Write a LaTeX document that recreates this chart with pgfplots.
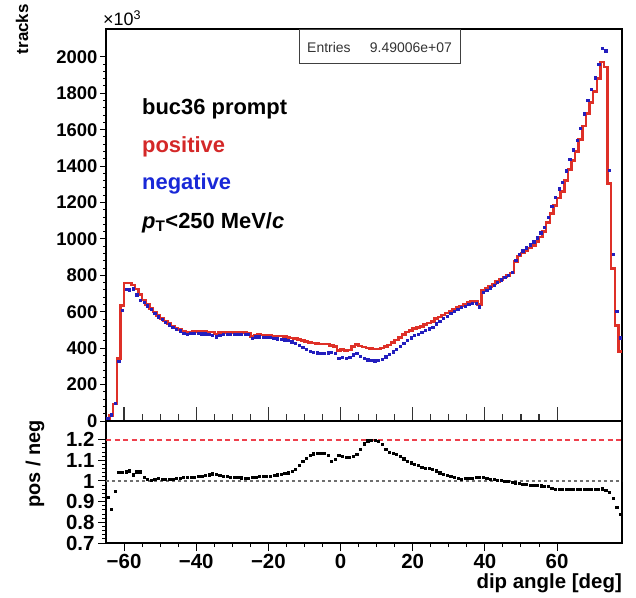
\documentclass[border=0pt]{standalone}
\usepackage{pgfplots}
\pgfplotsset{compat=1.18}
\usepackage{pgfplotstable}
\usepackage{fontspec}
\setmainfont{Liberation Sans}
\definecolor{rootred}{RGB}{222,48,40}
\definecolor{rootblue}{RGB}{35,30,190}
\definecolor{txtred}{RGB}{212,40,40}
\definecolor{txtblue}{RGB}{25,40,215}
\definecolor{dashred}{RGB}{235,30,45}
\definecolor{dashgray}{RGB}{110,110,110}

\pgfplotstableread{
x red blue ratio
-65 15 16.3 0.922
-64 30 34.8 0.862
-63 94 98.8 0.951
-62 342 328.5 1.041
-61 635 610 1.041
-60 757 724.4 1.045
-59 757 721 1.050
-58 748 726 1.030
-57 725 693.8 1.045
-56 695 665 1.045
-55 665 653 1.018
-54 640 633.7 1.010
-53 618 615 1.005
-52 598 592 1.010
-51 580 573 1.012
-50 563 557.4 1.010
-49 548 543.7 1.008
-48 535 529.7 1.010
-47 522 516.8 1.010
-46 512 505.9 1.012
-45 503 495.6 1.015
-44 492 483.3 1.018
-43 488 478.4 1.020
-42 490 480.4 1.020
-41 492 482.4 1.020
-40 492 481.4 1.022
-39 492 480 1.025
-38 492 479.1 1.027
-37 490 475.7 1.030
-36 488 471.5 1.035
-35 478 462.7 1.033
-34 486 473.2 1.027
-33 487 475.1 1.025
-32 487 476.5 1.022
-31 487 477.5 1.020
-30 486 476.5 1.020
-29 486 477.4 1.018
-28 486 478.3 1.016
-27 485 478.3 1.014
-26 483 476.8 1.013
-25 465 455.9 1.020
-24 472 462.7 1.020
-23 474 463.8 1.022
-22 472 461.8 1.022
-21 472 461.4 1.023
-20 470 458.5 1.025
-19 468 455.3 1.028
-18 466 452.4 1.030
-17 466 451.1 1.033
-16 463 446.9 1.036
-15 460 442.3 1.040
-14 456 435.1 1.048
-13 452 427.2 1.058
-12 448 416.7 1.075
-11 443 404.6 1.095
-10 438 394.6 1.110
-9 432 384 1.125
-8 428 378.1 1.132
-7 425 374.4 1.135
-6 424 373.6 1.135
-5 424 373.6 1.135
-4 422 375.1 1.125
-3 415 379 1.095
-2 410 371 1.105
-1 388 344.9 1.125
0 392 350 1.120
1 386 346.2 1.115
2 390 349.8 1.115
3 408 364.3 1.120
4 420 371.7 1.130
5 412 356.7 1.155
6 406 344.1 1.180
7 402 336.4 1.195
8 398 332.2 1.198
9 396 330.6 1.198
10 396 332.2 1.192
11 400 339.6 1.178
12 408 353.2 1.155
13 418 366.7 1.140
14 432 380.6 1.135
15 446 395.4 1.128
16 460 411.4 1.118
17 474 427.8 1.108
18 488 444.8 1.097
19 498 457.7 1.088
20 507 469.4 1.080
21 514 478.1 1.075
22 520 486.9 1.068
23 530 498.6 1.063
24 538 507.5 1.060
25 546 516.1 1.058
26 562 535.2 1.050
27 572 550 1.040
28 582 563.4 1.033
29 592 575.9 1.028
30 605 590.8 1.024
31 614 602 1.020
32 623 613.8 1.015
33 632 625.7 1.010
34 640 632.4 1.012
35 650 641.7 1.013
36 656 646.3 1.015
37 660 648.3 1.018
38 640 627.5 1.020
39 720 707.3 1.018
40 728 717.2 1.015
41 740 732.7 1.010
42 752 746.8 1.007
43 765 761.2 1.005
44 778 775.7 1.003
45 790 790 1.000
46 800 801.6 0.998
47 812 816.1 0.995
48 875 882.1 0.992
49 905 916 0.988
50 922 936 0.985
51 935 951.2 0.983
52 950 968.4 0.981
53 965 984.7 0.980
54 985 1007.2 0.978
55 1010 1033.8 0.977
56 1040 1065.6 0.976
57 1090 1119.1 0.974
58 1140 1178.9 0.967
59 1184 1230.8 0.962
60 1225 1276 0.960
61 1260 1312.5 0.960
62 1320 1375 0.960
63 1380 1437.5 0.960
64 1430 1489.6 0.960
65 1480 1541.7 0.960
66 1545 1609.4 0.960
67 1620 1687.5 0.960
68 1690 1760.4 0.960
69 1750 1822.9 0.960
70 1810 1885.4 0.960
71 1880 1958.3 0.960
72 1972 2047.8 0.963
73 1943 2034.6 0.955
74 1304 1378.4 0.946
75 838 914.8 0.916
76 525 601.4 0.873
77 383 457 0.838
78 383 nan nan
}\hist

\begin{document}
\begin{tikzpicture}[x=1bp,y=1bp]
\useasboundingbox (0,0) rectangle (636,-598);
% ---------------- top panel ----------------
\begin{axis}[
  at={(106bp,-421bp)}, anchor=south west,
  width=516bp, height=392bp, scale only axis,
  xmin=-65, xmax=78, ymin=0, ymax=2153,
  axis line style={line width=1.5bp},
  xtick=\empty,
  ytick={0,200,400,600,800,1000,1200,1400,1600,1800,2000},
  minor y tick num=4,
  ytick pos=left, tick align=outside,
  major tick length=6bp, minor tick length=3bp,
  every tick/.style={black, line width=1bp},
  yticklabel style={font=\fontsize{18.5}{19}\selectfont\bfseries, xshift=1bp},
  /pgf/number format/assume math mode=true,
  /pgf/number format/1000 sep={},
  scaled y ticks=false,
]
\addplot[const plot, rootred, line width=2.5bp] table[x=x,y=red]{\hist};
\addplot[only marks, mark=square*, mark size=1.15bp, rootblue] table[x expr=\thisrow{x}+0.5, y=blue]{\hist};
\end{axis}
% overlay axis for inner x ticks of top panel
\begin{axis}[
  at={(106bp,-421bp)}, anchor=south west,
  width=516bp, height=392bp, scale only axis,
  xmin=-65, xmax=78, ymin=0, ymax=2153,
  axis line style={draw=none},
  ytick=\empty,
  xtick={-60,-40,-20,0,20,40,60}, xticklabels={},
  minor x tick num=3,
  xtick pos=left, tick align=inside,
  major tick length=14bp, minor tick length=7bp,
  every tick/.style={black!80, line width=1.1bp},
]
\addplot[draw=none] coordinates {(0,0)};
\end{axis}
% ---------------- bottom panel ----------------
\begin{axis}[
  at={(106bp,-421bp)}, anchor=north west,
  width=516bp, height=122bp, scale only axis,
  xmin=-65, xmax=78, ymin=0.7, ymax=1.29,
  axis line style={line width=1.5bp},
  xtick={-60,-40,-20,0,20,40,60},
  xticklabels={−60,−40,−20,0,20,40,60},
  minor x tick num=3,
  ytick={0.7,0.8,0.9,1,1.1,1.2},
  yticklabels={0.7,0.8,0.9,1,1.1,1.2},
  minor y tick num=4,
  xtick pos=left, ytick pos=left, tick align=outside,
  major tick length=8bp, minor tick length=4bp,
  every tick/.style={black, line width=1bp},
  ticklabel style={font=\fontsize{20.5}{22}\selectfont\bfseries},
]
\addplot[color=dashred, line width=1.8bp, dash pattern=on 5bp off 3.5bp, opacity=0.85] coordinates {(-65,1.2) (78,1.2)};
\addplot[color=dashgray, line width=1.6bp, dash pattern=on 3bp off 3bp] coordinates {(-65,1) (78,1)};
\addplot[only marks, mark=square*, mark size=1.1bp, black] table[x expr=\thisrow{x}+0.5, y=ratio]{\hist};
\end{axis}
% ---------------- texts ----------------
\node[anchor=base west, inner sep=0, font=\fontsize{18}{19}\selectfont] at (103,-26) {×10\textsuperscript{3}};
\draw[fill=white, draw=black!75, line width=0.8bp] (299.5,-29.5) rectangle (460,-63.5);
\node[anchor=base west, inner sep=0, text=black!80, font=\fontsize{14}{15}\selectfont] at (307,-52.7) {Entries};
\node[anchor=base east, inner sep=0, text=black!80, font=\fontsize{14}{15}\selectfont] at (452,-52.7) {9.49006e+07};
\begin{scope}[every node/.style={anchor=base west, inner sep=0, font=\fontsize{22}{24}\selectfont\bfseries}]
\node at (142,-115) {buc36 prompt};
\node[text=txtred] at (142,-152.5) {positive};
\node[text=txtblue] at (142,-189.5) {negative};
\node at (142,-228) {\textit{p}\textsubscript{T}<250 MeV/\textit{c}};
\end{scope}
\node[rotate=90, anchor=east, inner sep=0, font=\fontsize{17}{18}\selectfont\bfseries] at (22,-4) {tracks};
\node[rotate=90, anchor=east, inner sep=0, font=\fontsize{20}{21}\selectfont\bfseries] at (35,-420) {pos / neg};
\node[anchor=base east, inner sep=0, font=\fontsize{20.5}{22}\selectfont\bfseries] at (622,-588) {dip angle [deg]};
\end{tikzpicture}
\end{document}
